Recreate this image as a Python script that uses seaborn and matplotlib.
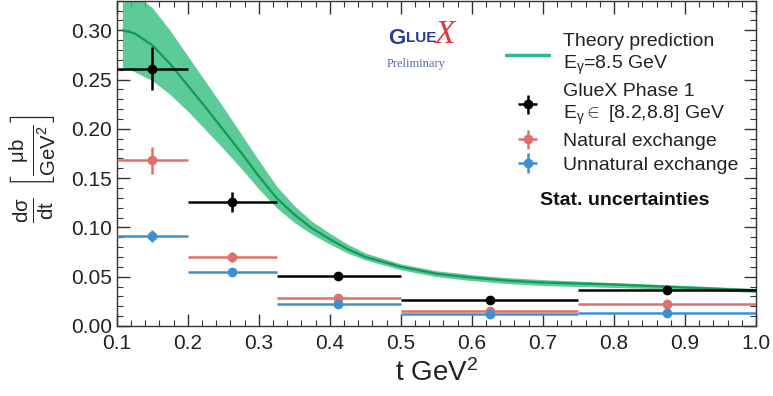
import numpy as np
import pandas as pd
import matplotlib
matplotlib.use("Agg")
import matplotlib.pyplot as plt
import seaborn as sns
from matplotlib.ticker import MultipleLocator

# theory band
t_theory = [0.108, 0.125, 0.150, 0.175, 0.200, 0.225, 0.250, 0.275, 0.300, 0.325,
            0.350, 0.375, 0.400, 0.425, 0.450, 0.500, 0.550, 0.600, 0.650, 0.700,
            0.800, 0.900, 1.000]
theory_mid = [0.300, 0.297, 0.285, 0.266, 0.244, 0.222, 0.199, 0.176, 0.152, 0.130,
              0.113, 0.099, 0.088, 0.078, 0.070, 0.060, 0.053, 0.049, 0.046, 0.044,
              0.042, 0.039, 0.036]
theory_lo = [0.263, 0.258, 0.249, 0.235, 0.218, 0.199, 0.180, 0.160, 0.139, 0.120,
             0.105, 0.093, 0.083, 0.074, 0.067, 0.057, 0.050, 0.046, 0.043, 0.041,
             0.039, 0.037, 0.034]
theory_hi = [0.340, 0.337, 0.323, 0.300, 0.274, 0.248, 0.222, 0.195, 0.168, 0.142,
             0.122, 0.106, 0.094, 0.083, 0.074, 0.063, 0.056, 0.052, 0.049, 0.047,
             0.044, 0.041, 0.038]

# t bins
t_center = [0.150, 0.262, 0.411, 0.625, 0.875]
t_low = [0.100, 0.200, 0.325, 0.500, 0.750]
t_high = [0.200, 0.325, 0.500, 0.750, 1.000]

gluex = [0.261, 0.126, 0.051, 0.026, 0.036]
gluex_err = [0.022, 0.010, 0.003, 0.002, 0.002]
natural = [0.168, 0.070, 0.028, 0.015, 0.022]
natural_err = [0.014, 0.005, 0.002, 0.001, 0.001]
unnatural = [0.091, 0.055, 0.022, 0.012, 0.0135]
unnatural_err = [0.006, 0.004, 0.001, 0.001, 0.001]

sns.set_theme(style="ticks")
plt.rcParams['font.family'] = ['Liberation Sans', 'DejaVu Sans']
plt.rcParams['mathtext.fontset'] = 'custom'
plt.rcParams['mathtext.rm'] = 'Liberation Sans'
plt.rcParams['mathtext.it'] = 'Liberation Sans:italic'
plt.rcParams['mathtext.bf'] = 'Liberation Sans:bold'

fig = plt.figure(figsize=(7.73, 3.96), dpi=100)
ax = fig.add_axes([0.151, 0.177, 0.827, 0.821])

theory = pd.DataFrame({'t': t_theory, 'mid': theory_mid, 'lo': theory_lo, 'hi': theory_hi})
green = '#3fc285'
ax.fill_between(theory['t'], theory['lo'], theory['hi'], color=green, alpha=0.85,
                lw=0, zorder=2)
sns.lineplot(data=theory, x='t', y='mid', color='#14995a', lw=1.6, ax=ax, zorder=3)

xerr = [np.subtract(t_center, t_low), np.subtract(t_high, t_center)]
series = [
    (natural, natural_err, '#e0706a', 'Natural exchange'),
    (unnatural, unnatural_err, '#3f8fd2', 'Unnatural exchange'),
    (gluex, gluex_err, 'black', 'GlueX Phase 1\n$\\mathrm{E_{\\gamma}\\in}$ [8.2,8.8] GeV'),
]
handles = {}
for vals, err, col, lab in series:
    eb = ax.errorbar(t_center, vals, xerr=xerr, yerr=err, fmt='o', color=col,
                     ms=6, elinewidth=1.8, capsize=0, zorder=4)
    handles[lab] = eb

ax.set_xlim(0.1, 1.0)
ax.set_ylim(0.0, 0.33)
ax.xaxis.set_major_locator(MultipleLocator(0.1))
ax.xaxis.set_minor_locator(MultipleLocator(0.02))
ax.yaxis.set_major_locator(MultipleLocator(0.05))
ax.yaxis.set_minor_locator(MultipleLocator(0.01))
ax.xaxis.set_major_formatter(plt.FormatStrFormatter('%.1f'))
ax.yaxis.set_major_formatter(plt.FormatStrFormatter('%.2f'))
ax.tick_params(which='both', direction='in', top=True, right=True, color='#333333',
               labelsize=15, labelcolor='#222222')
ax.tick_params(which='major', length=9, width=1)
ax.tick_params(which='minor', length=4.5, width=0.8)
ax.tick_params(axis='x', pad=6)
for s in ax.spines.values():
    s.set_color('#333333')
    s.set_linewidth(1)

ax.set_xlabel('t GeV$^{2}$', fontsize=20, color='#222222', labelpad=4)
ax.set_ylabel('')
fig.text(0.043, 0.575,
         r'$\frac{\mathrm{d\sigma}}{\mathrm{dt}}\ \left[\frac{\mathrm{\mu b}}{\mathrm{GeV^{2}}}\right]$',
         rotation=90, ha='center', va='center', fontsize=21, color='#222222')

theory_handle = plt.Line2D([], [], color='#2bb592', lw=2.5)
leg = ax.legend([theory_handle, handles[series[2][3]], handles['Natural exchange'],
                 handles['Unnatural exchange']],
                ['Theory prediction\n$\\mathrm{E_{\\gamma}}$=8.5 GeV', series[2][3],
                 'Natural exchange', 'Unnatural exchange'],
                loc='upper left', bbox_to_anchor=(0.597, 0.925), frameon=False,
                fontsize=14, handlelength=2.2, handletextpad=0.7, labelspacing=0.3,
                borderaxespad=0)
for txt in leg.get_texts():
    txt.set_color('#222222')
    txt.set_linespacing(1.25)

ax.text(0.662, 0.385, 'Stat. uncertainties', transform=ax.transAxes, fontsize=14,
        fontweight='bold', color='#111111', va='center')

# GlueX logo (approximate, as text)
ax.text(0.425, 0.885, 'G', transform=ax.transAxes, fontsize=16, fontweight='bold',
        color='#2b3d9b', va='center')
ax.text(0.452, 0.885, 'LUE', transform=ax.transAxes, fontsize=11, fontweight='bold',
        color='#2b3d9b', va='center')
ax.text(0.497, 0.895, 'X', transform=ax.transAxes, fontsize=24, fontstyle='italic',
        family='Liberation Serif', color='#d8383a', va='center')
ax.text(0.468, 0.805, 'Preliminary', transform=ax.transAxes, fontsize=9,
        family='Liberation Serif', color='#5a6ab0', ha='center', va='center')

fig.savefig('out.png', dpi=100)
